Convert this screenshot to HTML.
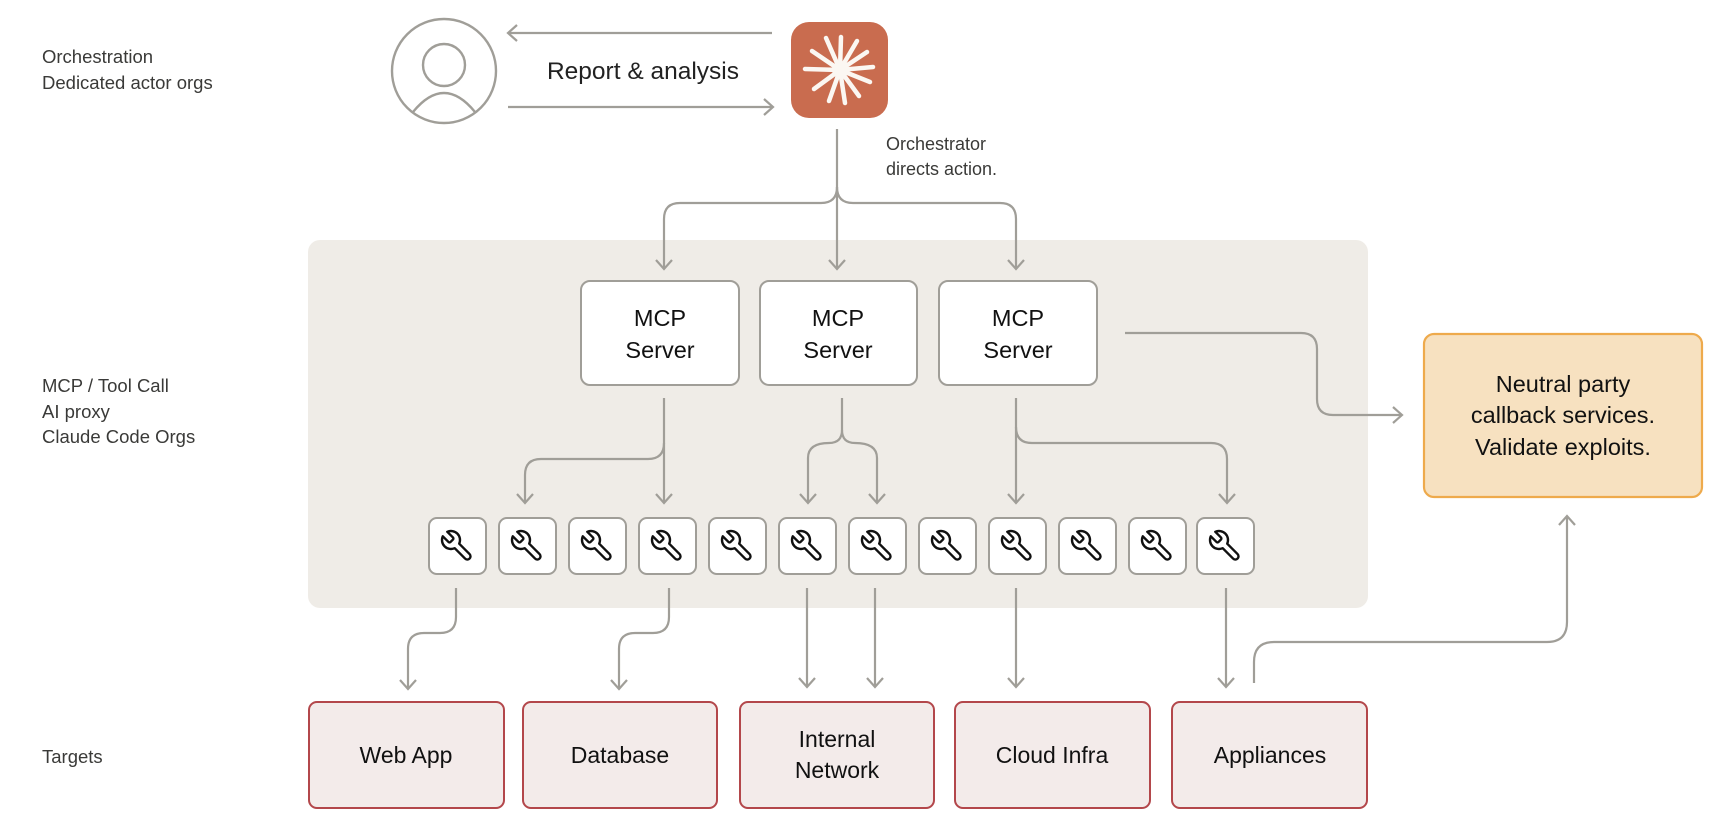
<!DOCTYPE html>
<html><head><meta charset="utf-8"><style>
html,body{margin:0;padding:0;background:#fff;}
svg{display:block;}
text{font-family:"Liberation Sans",sans-serif;}
</style></head><body>
<svg width="1716" height="822" viewBox="0 0 1716 822" xmlns="http://www.w3.org/2000/svg">
<defs>
<g id="wr"><g transform="scale(-1.5,1.5) translate(-12,-12)"><path d="M14.7 6.3a1 1 0 0 0 0 1.4l1.6 1.6a1 1 0 0 0 1.4 0l3.77-3.77a6 6 0 0 1-7.94 7.94l-6.91 6.91a2.12 2.12 0 0 1-3-3l6.91-6.91a6 6 0 0 1 7.94-7.94l-3.76 3.76z" fill="none" stroke="#111" stroke-width="1.6" stroke-linejoin="round"/></g></g>
<g id="ad"><path d="M-8,-9 L0,0 L8,-9" fill="none" stroke="#a09e98" stroke-width="2.2"/></g>
</defs>
<g fill="#3a3a38" font-size="18.5">
<text x="42" y="63">Orchestration</text>
<text x="42" y="89">Dedicated actor orgs</text>
<text x="42" y="392">MCP / Tool Call</text>
<text x="42" y="418">AI proxy</text>
<text x="42" y="443">Claude Code Orgs</text>
<text x="42" y="763">Targets</text>
</g>
<rect x="308" y="240" width="1060" height="368" rx="12" fill="#efece7"/>
<g fill="none" stroke="#a09e98" stroke-width="2.4">
<circle cx="444" cy="71" r="52"/>
<circle cx="444" cy="65" r="21"/>
<path d="M413,112 Q444,74 475,112"/>
</g>
<g fill="none" stroke="#a09e98" stroke-width="2.2">
<line x1="508" y1="33" x2="772" y2="33"/><path d="M517,25 L508,33 L517,41"/>
<line x1="508" y1="107" x2="773" y2="107"/><path d="M764,99 L773,107 L764,115"/>
<line x1="837" y1="129" x2="837" y2="268"/>
<path d="M837,187 Q837,203 821,203 L680,203 Q664,203 664,219 L664,268"/>
<path d="M837,187 Q837,203 853,203 L1000,203 Q1016,203 1016,219 L1016,268"/>
<line x1="664" y1="398" x2="664" y2="502"/>
<path d="M664,443 Q664,459 648,459 L541,459 Q525,459 525,475 L525,502"/>
<path d="M842,398 L842,430 Q842,443 829,443 Q808,443 808,458 L808,502"/>
<path d="M842,430 Q842,443 855,443 Q877,443 877,458 L877,502"/>
<line x1="1016" y1="398" x2="1016" y2="502"/>
<path d="M1016,427 Q1016,443 1032,443 L1211,443 Q1227,443 1227,459 L1227,502"/>
<path d="M1125,333 L1301,333 Q1317,333 1317,349 L1317,399 Q1317,415 1333,415 L1402,415"/>
<path d="M1393,407 L1402,415 L1393,423"/>
<path d="M456,588 L456,617 Q456,633 440,633 L424,633 Q408,633 408,649 L408,688"/>
<path d="M669,588 L669,617 Q669,633 653,633 L635,633 Q619,633 619,649 L619,688"/>
<line x1="807" y1="588" x2="807" y2="686"/>
<line x1="875" y1="588" x2="875" y2="686"/>
<line x1="1016" y1="588" x2="1016" y2="686"/>
<line x1="1226" y1="588" x2="1226" y2="686"/>
<path d="M1254,683 L1254,662 Q1254,642 1274,642 L1547,642 Q1567,642 1567,622 L1567,516"/>
<path d="M1559,525 L1567,516 L1575,525"/>
</g>
<g>
<use href="#ad" x="664" y="269"/><use href="#ad" x="837" y="269"/><use href="#ad" x="1016" y="269"/>
<use href="#ad" x="525" y="503"/><use href="#ad" x="664" y="503"/><use href="#ad" x="808" y="503"/><use href="#ad" x="877" y="503"/><use href="#ad" x="1016" y="503"/><use href="#ad" x="1227" y="503"/>
<use href="#ad" x="408" y="689"/><use href="#ad" x="619" y="689"/><use href="#ad" x="807" y="687"/><use href="#ad" x="875" y="687"/><use href="#ad" x="1016" y="687"/><use href="#ad" x="1226" y="687"/>
</g>
<text x="643" y="79" font-size="24.5" fill="#222" text-anchor="middle">Report &amp; analysis</text>
<rect x="791" y="22" width="97" height="96" rx="18" fill="#c96c4f"/>
<g stroke="#fbf7f2" stroke-width="4.5" stroke-linecap="round">
<line x1="840" y1="70" x2="841" y2="37"/>
<line x1="840" y1="70" x2="857" y2="41"/>
<line x1="840" y1="70" x2="867" y2="52"/>
<line x1="840" y1="70" x2="873" y2="67"/>
<line x1="840" y1="70" x2="870" y2="82"/>
<line x1="840" y1="70" x2="859" y2="96"/>
<line x1="840" y1="70" x2="845" y2="103"/>
<line x1="840" y1="70" x2="829" y2="101"/>
<line x1="840" y1="70" x2="814" y2="89"/>
<line x1="840" y1="70" x2="805" y2="69"/>
<line x1="840" y1="70" x2="812" y2="51"/>
<line x1="840" y1="70" x2="826" y2="38"/>
</g>
<circle cx="840" cy="70" r="8" fill="#fbf7f2"/>
<g fill="#3a3a38" font-size="18">
<text x="886" y="150">Orchestrator</text>
<text x="886" y="175">directs action.</text>
</g>
<g fill="#fff" stroke="#a09e98" stroke-width="2">
<rect x="581" y="281" width="158" height="104" rx="9"/>
<rect x="760" y="281" width="157" height="104" rx="9"/>
<rect x="939" y="281" width="158" height="104" rx="9"/>
</g>
<g font-size="23.5" fill="#111" text-anchor="middle">
<text x="660" y="326">MCP</text><text x="660" y="358">Server</text>
<text x="838" y="326">MCP</text><text x="838" y="358">Server</text>
<text x="1018" y="326">MCP</text><text x="1018" y="358">Server</text>
</g>
<g fill="#fff" stroke="#a09e98" stroke-width="2">
<rect x="429" y="518" width="57" height="56" rx="8"/><rect x="499" y="518" width="57" height="56" rx="8"/>
<rect x="569" y="518" width="57" height="56" rx="8"/><rect x="639" y="518" width="57" height="56" rx="8"/>
<rect x="709" y="518" width="57" height="56" rx="8"/><rect x="779" y="518" width="57" height="56" rx="8"/>
<rect x="849" y="518" width="57" height="56" rx="8"/><rect x="919" y="518" width="57" height="56" rx="8"/>
<rect x="989" y="518" width="57" height="56" rx="8"/><rect x="1059" y="518" width="57" height="56" rx="8"/>
<rect x="1129" y="518" width="57" height="56" rx="8"/><rect x="1197" y="518" width="57" height="56" rx="8"/>
</g>
<g>
<use href="#wr" x="457" y="546"/><use href="#wr" x="527" y="546"/><use href="#wr" x="597" y="546"/><use href="#wr" x="667" y="546"/>
<use href="#wr" x="737" y="546"/><use href="#wr" x="807" y="546"/><use href="#wr" x="877" y="546"/><use href="#wr" x="947" y="546"/>
<use href="#wr" x="1017" y="546"/><use href="#wr" x="1087" y="546"/><use href="#wr" x="1157" y="546"/><use href="#wr" x="1225" y="546"/>
</g>
<rect x="1424" y="334" width="278" height="163" rx="10" fill="#f7e1c0" stroke="#eeaa4c" stroke-width="2.2"/>
<g font-size="23.5" fill="#111" text-anchor="middle">
<text x="1563" y="392">Neutral party</text>
<text x="1563" y="423">callback services.</text>
<text x="1563" y="455">Validate exploits.</text>
</g>
<g fill="#f3ebea" stroke="#b3474b" stroke-width="2">
<rect x="309" y="702" width="195" height="106" rx="8"/>
<rect x="523" y="702" width="194" height="106" rx="8"/>
<rect x="740" y="702" width="194" height="106" rx="8"/>
<rect x="955" y="702" width="195" height="106" rx="8"/>
<rect x="1172" y="702" width="195" height="106" rx="8"/>
</g>
<g font-size="23" fill="#111" text-anchor="middle">
<text x="406" y="763">Web App</text>
<text x="620" y="763">Database</text>
<text x="837" y="747">Internal</text>
<text x="837" y="778">Network</text>
<text x="1052" y="763">Cloud Infra</text>
<text x="1270" y="763">Appliances</text>
</g>
</svg>
</body></html>
